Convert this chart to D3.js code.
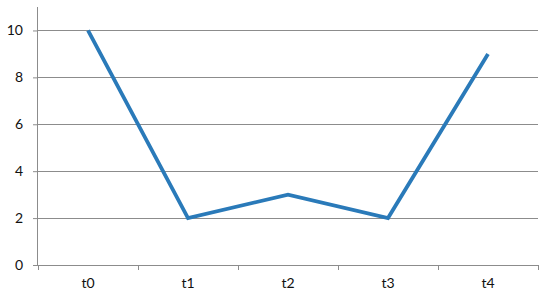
<!DOCTYPE html>
<html><head><meta charset="utf-8">
<script src="https://cdn.jsdelivr.net/npm/d3@7/dist/d3.min.js"></script>
<style>body{margin:0;background:#fff}svg{display:block}</style>
</head><body><svg id="c" width="550" height="300"></svg>
<script>
const categories = ["t0","t1","t2","t3","t4"];
const values = [10, 2, 3, 2, 9];
const yTicks = [0, 2, 4, 6, 8, 10];

const svg = d3.select("#c");
const m = {left: 38, right: 12, top: 7, bottom: 35};
const W = 550, H = 300;
const x = d3.scaleBand().domain(categories).range([m.left, W - m.right]);
const y = d3.scaleLinear().domain([0, 11]).range([H - m.bottom, m.top]);
const font = "Lato, 'Open Sans', sans-serif";
const gridColor = "#8c8c8c";

// gridlines
svg.append("g").selectAll("line").data(yTicks.filter(d => d > 0)).join("line")
  .attr("x1", m.left).attr("x2", W - m.right)
  .attr("y1", d => y(d)).attr("y2", d => y(d))
  .attr("stroke", gridColor).attr("stroke-width", 1).attr("shape-rendering", "crispEdges");

// y axis
const ya = svg.append("g").attr("transform", `translate(${m.left},0)`)
  .call(d3.axisLeft(y).tickValues(yTicks).tickSize(5).tickPadding(10));
ya.select(".domain").attr("stroke", gridColor).attr("d", `M-0.5,${y(0)}V${y(11)}`);
ya.selectAll(".tick line").attr("stroke", gridColor);
ya.selectAll("text").attr("font-family", font).attr("font-size", 14).attr("fill", "#111");

// x axis
const xa = svg.append("g").attr("transform", `translate(0,${y(0)})`)
  .call(d3.axisBottom(x).tickSize(0).tickPadding(13));
xa.select(".domain").attr("stroke", gridColor).attr("d", `M${m.left},0.5H${W - m.right}`);
xa.selectAll("text").attr("font-family", font).attr("font-size", 14).attr("fill", "#111");
// boundary ticks
const bounds = categories.map(c => x(c)).concat([x(categories[categories.length-1]) + x.bandwidth()]);
svg.append("g").selectAll("line").data(bounds).join("line")
  .attr("x1", d => d).attr("x2", d => d)
  .attr("y1", y(0)).attr("y2", y(0) + 5)
  .attr("stroke", gridColor).attr("shape-rendering", "crispEdges");

// line
const line = d3.line().x((d, i) => x(categories[i]) + x.bandwidth() / 2).y(d => y(d));
svg.append("path").datum(values).attr("d", line)
  .attr("fill", "none").attr("stroke", "#2a7ab9").attr("stroke-width", 3.8)
  .attr("stroke-linejoin", "miter");
</script></body></html>
